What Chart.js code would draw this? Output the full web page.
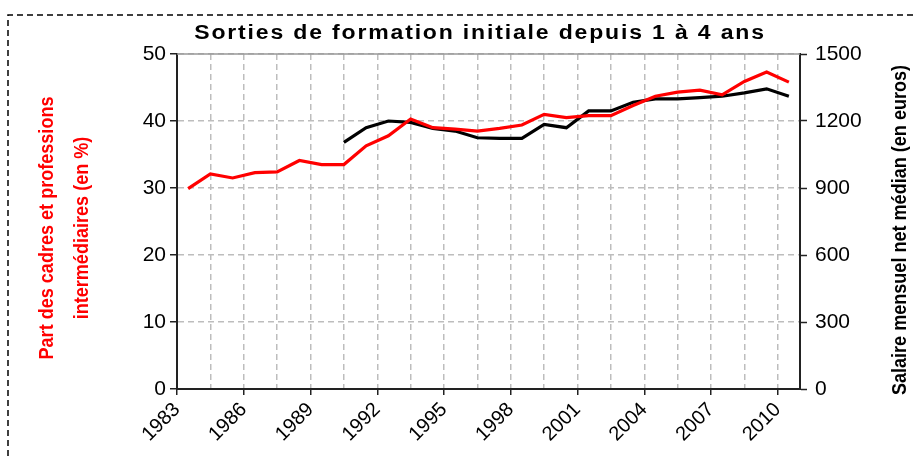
<!DOCTYPE html>
<html>
<head>
<meta charset="utf-8">
<script src="https://cdn.jsdelivr.net/npm/chart.js@4.4.1/dist/chart.umd.min.js"></script>
<style>
  html, body { margin: 0; padding: 0; background: #fff; }
  canvas { display: block; }
</style>
</head>
<body>
<canvas id="chart" width="914" height="456"></canvas>
<script>
// années de sortie (axe catégoriel, une valeur par an)
const years = [1983, 1984, 1985, 1986, 1987, 1988, 1989, 1990, 1991, 1992,
               1993, 1994, 1995, 1996, 1997, 1998, 1999, 2000, 2001, 2002,
               2003, 2004, 2005, 2006, 2007, 2008, 2009, 2010];

// part des cadres et professions intermédiaires (en %) - axe gauche
const shareCadres = [29.9, 32.1, 31.5, 32.3, 32.4, 34.1, 33.5, 33.5, 36.3, 37.8,
                     40.3, 39.0, 38.8, 38.5, 38.9, 39.4, 41.0, 40.5, 40.8, 40.8,
                     42.3, 43.7, 44.3, 44.6, 43.9, 45.9, 47.3, 45.8];

// salaire mensuel net médian (en euros) - axe droit, disponible à partir de 1990
const salaireMedian = [null, null, null, null, null, null, null, 1104, 1170, 1200,
                       1194, 1167, 1155, 1125, 1122, 1122, 1185, 1170, 1245, 1245,
                       1284, 1299, 1299, 1305, 1311, 1326, 1344, 1311];

const leftTicks  = [0, 10, 20, 30, 40, 50];
const rightTicks = [0, 300, 600, 900, 1200, 1500];

const TITLE       = 'Sorties de formation initiale depuis 1 à 4 ans';
const LEFT_TITLE  = ['Part des cadres et professions', 'intermédiaires (en %)'];
const RIGHT_TITLE = 'Salaire mensuel net médian (en euros)';

const FONT       = '"Liberation Sans", Arial, sans-serif';
const GRID_COLOR = '#bdbdbd';
const AXIS_COLOR = '#222';

// bornes des catégories : une demi-année de chaque côté
const X_MIN = years[0] - 0.5;
const X_MAX = years[years.length - 1] + 0.5;

// texte tourné de 90° (lecture de bas en haut), un peu resserré
function verticalText(ctx, text, x, y, squeeze) {
  ctx.save();
  ctx.translate(x, y);
  ctx.rotate(-Math.PI / 2);
  ctx.scale(squeeze, 1);
  ctx.fillText(text, 0, 0);
  ctx.restore();
}

const decor = {
  id: 'decor',
  beforeDraw(chart) {
    const ctx = chart.ctx;
    ctx.save();
    ctx.fillStyle = '#fff';
    ctx.fillRect(0, 0, chart.width, chart.height);
    // cadre pointillé de la zone graphique
    ctx.strokeStyle = '#000';
    ctx.lineWidth = 1.5;
    ctx.setLineDash([6, 4]);
    ctx.beginPath();
    ctx.moveTo(8, chart.height);
    ctx.lineTo(8, 15);
    ctx.lineTo(chart.width, 15);
    ctx.stroke();
    ctx.restore();
  },
  afterDraw(chart) {
    const ctx = chart.ctx;
    const a = chart.chartArea;
    ctx.save();
    // bord supérieur de la zone de tracé
    ctx.strokeStyle = '#999';
    ctx.lineWidth = 1.5;
    ctx.beginPath();
    ctx.moveTo(a.left, a.top);
    ctx.lineTo(a.right, a.top);
    ctx.stroke();

    // titre (glyphes un peu élargis comme dans l'original)
    ctx.fillStyle = '#000';
    ctx.font = 'bold 20px ' + FONT;
    ctx.textAlign = 'center';
    ctx.textBaseline = 'middle';
    if ('letterSpacing' in ctx) ctx.letterSpacing = '1.6px';
    ctx.save();
    ctx.translate(480, 33);
    ctx.scale(1.15, 1);
    ctx.fillText(TITLE, 0, 0);
    ctx.restore();
    if ('letterSpacing' in ctx) ctx.letterSpacing = '0px';

    // titre axe gauche
    ctx.font = 'bold 21px ' + FONT;
    ctx.fillStyle = '#ff0000';
    verticalText(ctx, LEFT_TITLE[0], 47, 228, 0.86);
    verticalText(ctx, LEFT_TITLE[1], 82, 228, 0.86);

    // titre axe droit
    ctx.fillStyle = '#000';
    verticalText(ctx, RIGHT_TITLE, 900, 230, 0.86);
    ctx.restore();
  }
};

new Chart(document.getElementById('chart'), {
  type: 'line',
  data: {
    datasets: [
      {
        label: LEFT_TITLE.join(' '),
        data: years.map((y, i) => ({ x: y, y: shareCadres[i] })),
        borderColor: '#ff0000',
        borderWidth: 3.2,
        pointRadius: 0,
        tension: 0,
        yAxisID: 'y',
      },
      {
        label: RIGHT_TITLE,
        data: years.map((y, i) => ({ x: y, y: salaireMedian[i] })),
        borderColor: '#000',
        borderWidth: 3.2,
        pointRadius: 0,
        tension: 0,
        spanGaps: false,
        yAxisID: 'y1',
      },
    ],
  },
  options: {
    responsive: false,
    animation: false,
    layout: { padding: { top: 54, left: 0, right: 0, bottom: 0 } },
    plugins: {
      legend: { display: false },
      tooltip: { enabled: false },
      title: { display: false },
    },
    scales: {
      x: {
        type: 'linear',
        min: X_MIN,
        max: X_MAX,
        afterBuildTicks: axis => {
          // quadrillage tous les 1,5 an, étiquettes tous les 3 ans
          const t = [];
          for (let v = X_MIN; v < X_MAX - 0.01; v += 1.5) t.push({ value: v });
          axis.ticks = t;
        },
        afterFit: axis => { axis.height = 67; },
        ticks: {
          autoSkip: false,
          minRotation: 45,
          maxRotation: 45,
          color: '#000',
          padding: 3,
          font: { family: FONT, size: 20 },
          callback: (v, i) => (i % 2 === 0 ? String(v + 0.5) : ''),
        },
        grid: {
          color: ctx => (ctx.index === 0 ? 'rgba(0,0,0,0)' : GRID_COLOR),
          lineWidth: 1.5,
          tickLength: 6,
          tickColor: ctx => (ctx.index % 2 === 0 ? AXIS_COLOR : 'rgba(0,0,0,0)'),
          tickWidth: 1.5,
        },
        border: { color: AXIS_COLOR, width: 2, dash: [6, 4] },
      },
      y: {
        position: 'left',
        min: leftTicks[0],
        max: leftTicks[leftTicks.length - 1],
        afterBuildTicks: axis => { axis.ticks = leftTicks.map(v => ({ value: v })); },
        afterFit: axis => { axis.width = 177; },
        ticks: {
          color: '#000',
          padding: 4,
          font: { family: FONT, size: 21 },
          callback: v => String(v),
        },
        grid: {
          color: ctx => (ctx.index === 0 ? 'rgba(0,0,0,0)' : GRID_COLOR),
          lineWidth: 1.5,
          tickLength: 7,
          tickColor: AXIS_COLOR,
          tickWidth: 1.5,
        },
        border: { color: AXIS_COLOR, width: 2, dash: [6, 4] },
      },
      y1: {
        position: 'right',
        min: rightTicks[0],
        max: rightTicks[rightTicks.length - 1],
        afterBuildTicks: axis => { axis.ticks = rightTicks.map(v => ({ value: v })); },
        afterFit: axis => { axis.width = 114; },
        ticks: {
          color: '#000',
          padding: 8,
          font: { family: FONT, size: 21 },
          callback: v => String(v),
        },
        grid: {
          drawOnChartArea: false,
          tickLength: 7,
          tickColor: AXIS_COLOR,
          tickWidth: 1.5,
        },
        border: { color: AXIS_COLOR, width: 2 },
      },
    },
  },
  plugins: [decor],
});
</script>
</body>
</html>
